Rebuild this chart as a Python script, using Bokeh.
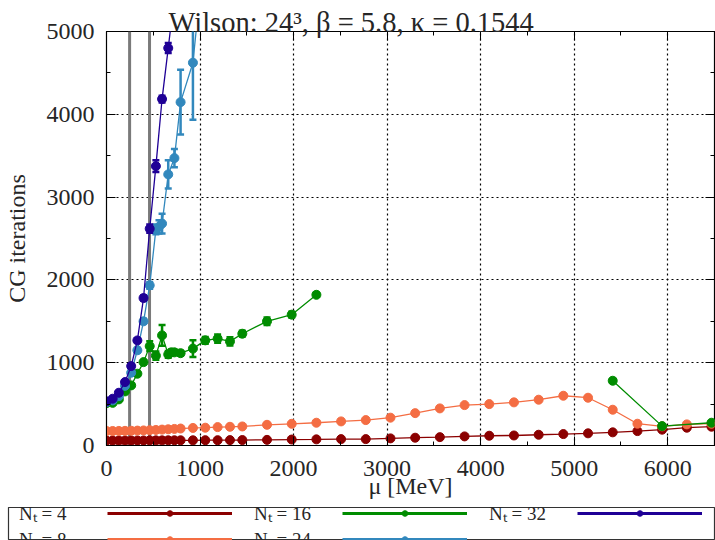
from bokeh.plotting import figure
from bokeh.layouts import column
from bokeh.models import (ColumnDataSource, Legend, LegendItem, LinearAxis,
                          SingleIntervalTicker, Range1d, Span)
from bokeh.embed import file_html
from bokeh.resources import INLINE

# ---------------- data ----------------
TITLE = "Wilson: 24³, β = 5.8, κ = 0.1544"
X_LABEL = "μ [MeV]"
Y_LABEL = "CG iterations"

mu_nt4 = [0, 66, 132, 198, 264, 330, 396, 462, 528, 594, 660, 726, 792,
          924, 1056, 1188, 1320, 1452, 1716, 1980,
          2244, 2508, 2772, 3036, 3300, 3564, 3828, 4092, 4356, 4620, 4884,
          5148, 5412, 5676, 5940, 6204, 6468]
it_nt4 = [60, 60, 60, 60, 60, 61, 61, 62, 62, 62, 63, 63, 63,
          63, 64, 64, 65, 66, 68, 72,
          74, 77, 77, 86, 94, 101, 110, 118, 121, 130, 138,
          147, 159, 174, 191, 215, 227]
err_nt4 = [3] * 37

mu_nt8 = list(mu_nt4)
it_nt8 = [175, 175, 176, 177, 178, 180, 182, 185, 188, 192, 196, 200, 205,
          212, 215, 222, 226, 230, 250, 262,
          275, 291, 307, 336, 391, 448, 488, 500, 521, 553, 601,
          577, 432, 263, 231, 255, 263]
err_nt8 = [5] * 37

mu_nt16 = [0, 66, 132, 198, 264, 330, 396, 462, 528, 594, 660, 693, 726, 792,
           924, 1056, 1188, 1320, 1452, 1716, 1980, 2244,
           5412, 5940, 6468]
it_nt16 = [512, 515, 557, 653, 726, 867, 1007, 1200, 1085, 1330, 1100, 1125, 1125, 1115,
           1170, 1270, 1290, 1257, 1350, 1500, 1580, 1820,
           782, 234, 275]
err_nt16 = [15, 15, 15, 15, 20, 20, 25, 60, 50, 125, 40, 35, 30, 30,
            100, 40, 50, 50, 35, 45, 35, 25,
            20, 20, 20]

mu_nt24 = [0, 66, 132, 198, 264, 330, 396, 462, 528, 561, 594, 660, 726, 792, 924, 1056]
it_nt24 = [524, 545, 595, 720, 879, 1150, 1500, 1934, 2610, 2640, 2680, 3274, 3471, 4147, 4623, 6100]
err_nt24 = [15, 15, 15, 20, 25, 30, 30, 40, 60, 80, 120, 170, 110, 390, 690, 900]

mu_nt32 = [0, 66, 132, 198, 264, 330, 396, 462, 528, 594, 660, 726]
it_nt32 = [533, 565, 637, 766, 959, 1269, 1781, 2618, 3374, 4184, 4800, 5430]
err_nt32 = [15, 15, 15, 20, 25, 25, 30, 50, 70, 40, 60, 80]

vline_mu = [247, 460]

labels = ["Nₜ = 4", "Nₜ = 8", "Nₜ = 16", "Nₜ = 24", "Nₜ = 32"]
colors = ["#8b0000", "#f46d43", "#008c00", "#3288bd", "#1f0096"]

x_ticks_interval = 1000
y_ticks_interval = 1000

FONT = "Liberation Serif"
TXT = "#262626"

# ---------------- main figure ----------------
p = figure(width=715, height=507, output_backend="svg", toolbar_location=None,
           x_range=Range1d(0, 6500), y_range=Range1d(0, 5000),
           min_border_left=106, min_border_right=1, min_border_top=31,
           min_border_bottom=62, background_fill_color="white",
           border_fill_color="white", outline_line_color="black",
           outline_line_width=1.2)
p.frame_align = False

p.title.text = TITLE
p.title.align = "left"
p.title.offset = 62
p.title.standoff = -12
p.title.text_font = FONT
p.title.text_font_size = "28.5px"
p.title.text_font_style = "normal"
p.title.text_color = TXT

xt = SingleIntervalTicker(interval=x_ticks_interval, num_minor_ticks=2)
yt = SingleIntervalTicker(interval=y_ticks_interval, num_minor_ticks=2)

for ax, t in ((p.xaxis[0], xt), (p.yaxis[0], yt)):
    ax.ticker = t
    ax.major_tick_in = 9
    ax.major_tick_out = 0
    ax.minor_tick_in = 4
    ax.minor_tick_out = 0
    ax.major_tick_line_color = "black"
    ax.minor_tick_line_color = "black"
    ax.axis_line_color = "black"
    ax.major_label_text_font = FONT
    ax.major_label_text_font_size = "24px"
    ax.major_label_text_color = TXT
    ax.axis_label_text_font = FONT
    ax.axis_label_text_font_size = "24px"
    ax.axis_label_text_font_style = "normal"
    ax.axis_label_text_color = TXT

p.xaxis.axis_label = X_LABEL
p.yaxis.axis_label = Y_LABEL
p.xaxis.major_label_standoff = 15
p.xaxis.axis_label_standoff = -6
p.yaxis.major_label_standoff = 12
p.yaxis.axis_label_standoff = 14

for loc, t in (("above", xt), ("right", yt)):
    a = LinearAxis(ticker=t, major_tick_in=9, major_tick_out=0,
                   minor_tick_in=4, minor_tick_out=0,
                   major_label_text_font_size="1px", major_label_text_color=None,
                   major_label_standoff=0, axis_line_color=None)
    p.add_layout(a, loc)

for g, t in ((p.xgrid[0], xt), (p.ygrid[0], yt)):
    g.ticker = t
    g.grid_line_color = "black"
    g.grid_line_dash = "2 3"
    g.grid_line_width = 1.2

for m in vline_mu:
    p.add_layout(Span(location=m, dimension="height", line_color="#7a7a7a",
                      line_width=3, level="underlay"))

# ---------------- legend strip (second figure, same styles) ----------------
pl = figure(width=715, height=33, output_backend="svg", toolbar_location=None,
            x_range=Range1d(-2, -1), y_range=Range1d(-2, -1),
            x_axis_type=None, y_axis_type=None,
            min_border_left=8, min_border_right=1, min_border_top=0,
            min_border_bottom=0, background_fill_color="white",
            border_fill_color="white", outline_line_color="#333333",
            outline_line_width=1.2)
pl.frame_align = False
pl.xgrid.visible = False
pl.ygrid.visible = False

# ---------------- series ----------------
series = [
    (mu_nt4, it_nt4, err_nt4),
    (mu_nt8, it_nt8, err_nt8),
    (mu_nt16, it_nt16, err_nt16),
    (mu_nt24, it_nt24, err_nt24),
    (mu_nt32, it_nt32, err_nt32),
]

key_items = []
text_items = []
for (mu, it, er), lab, col in zip(series, labels, colors):
    # split the line where data are missing (large gap in mu)
    runs = [[0]]
    for i in range(1, len(mu)):
        if mu[i] - mu[i - 1] > 1500:
            runs.append([i])
        else:
            runs[-1].append(i)
    for r in runs:
        p.line([mu[i] for i in r], [it[i] for i in r], line_color=col, line_width=1.3)
    src = ColumnDataSource(dict(x=mu, y=it,
                                lo=[a - b for a, b in zip(it, er)],
                                hi=[a + b for a, b in zip(it, er)]))
    p.segment(x0="x", y0="lo", x1="x", y1="hi", source=src,
              line_color=col, line_width=2.5)
    p.scatter("x", "hi", source=src, marker="dash", size=7, line_color=col, line_width=2.5)
    p.scatter("x", "lo", source=src, marker="dash", size=7, line_color=col, line_width=2.5)
    p.scatter("x", "y", source=src, marker="circle", size=9,
              fill_color=col, line_color=col)
    # the same glyphs in the legend strip (outside its ranges, so only the key shows)
    seg_l = pl.segment(x0="x", y0="lo", x1="x", y1="hi", source=src,
                       line_color=col, line_width=3)
    dot_l = pl.scatter("x", "y", source=src, marker="circle", size=9,
                       fill_color=col, line_color=col)
    ghost = pl.scatter("x", "y", source=src, marker="circle", size=1,
                       fill_alpha=0, line_alpha=0)
    key_items.append(LegendItem(label=" ", renderers=[seg_l, dot_l]))
    text_items.append(LegendItem(label=lab, renderers=[ghost]))

PITCH = 235
ROW_SP = -6
ROW_H = 26
common = dict(orientation="vertical", ncols=3, glyph_height=14,
              label_standoff=0, padding=1, margin=0,
              label_text_font=FONT, label_text_font_size="19px",
              border_line_color=None, background_fill_alpha=0.0)

def make_legend(items, **kw):
    lg = Legend(items=items, **common, **kw)
    try:
        lg.spacing = ROW_SP
        sp = ROW_SP
    except Exception:
        lg.spacing = 0
        sp = 0
    return lg, sp

# labels first (matplotlib-style "label  —●—")
leg_text, sp = make_legend(text_items, glyph_width=1, label_height=14,
                           label_text_color=TXT, label_width=PITCH - 1)
leg_key, sp2 = make_legend(key_items, glyph_width=125, label_height=ROW_H,
                           label_text_color=TXT, label_text_alpha=0.0,
                           label_width=PITCH - 125)

vy = -12
leg_text.location = (10, vy)
leg_key.location = (99, vy)
pl.add_layout(leg_text)
pl.add_layout(leg_key)

open("out.html", "w").write(file_html(column(p, pl, spacing=0), INLINE))
